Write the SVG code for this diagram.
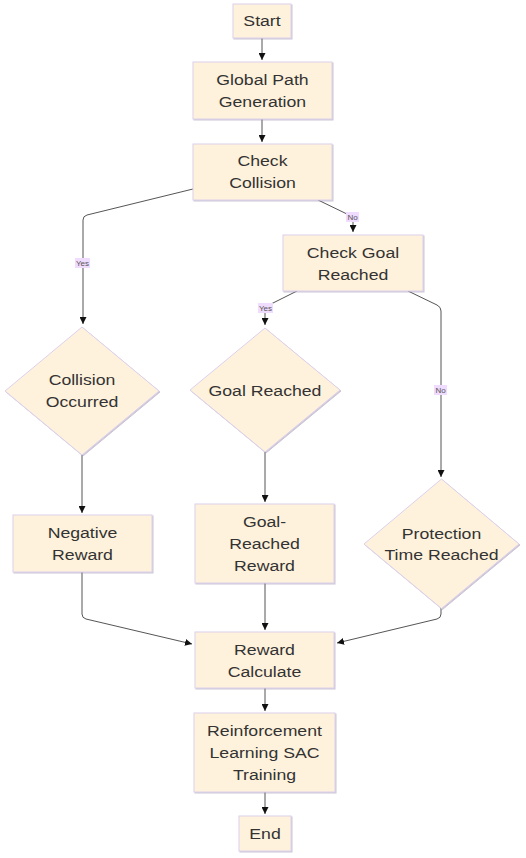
<svg xmlns="http://www.w3.org/2000/svg" width="526" height="858" viewBox="0 0 526 858">
<defs>
<style>
.n{fill:#fff2dc;stroke:#dcd0ec;stroke-width:1;filter:url(#sh)}
.t{font-family:"Liberation Sans",Arial,sans-serif;font-size:15.5px;fill:#333;text-anchor:middle}
.e{fill:none;stroke:#555;stroke-width:1}
.lb{fill:#f0dcff}
.lt{font-family:"Liberation Sans",Arial,sans-serif;font-size:8px;fill:#555;text-anchor:middle}
</style>
<filter id="sh" x="-10%" y="-10%" width="130%" height="130%">
<feDropShadow dx="1" dy="1" stdDeviation="0.7" flood-color="#8a7fa0" flood-opacity="0.45"/>
</filter>
<marker id="ar" markerUnits="userSpaceOnUse" viewBox="0 0 10 10" refX="10" refY="5" markerWidth="7" markerHeight="7" orient="auto">
<path d="M0,0 L10,5 L0,10 z" fill="#111"/>
</marker>
</defs>
<rect width="526" height="858" fill="#fff"/>
<g id="edges">
<path class="e" marker-end="url(#ar)" d="M262,38 L262,60"/>
<path class="e" marker-end="url(#ar)" d="M262,119 L262,142"/>
<path class="e" marker-end="url(#ar)" d="M193,189 L87,215 Q83,216 83,220 L83,324"/>
<path class="e" marker-end="url(#ar)" d="M318,200 L349,215 Q353,217 353,221 L353,232"/>
<path class="e" marker-end="url(#ar)" d="M297,291 L269,305 Q265,307 265,311 L265,325"/>
<path class="e" marker-end="url(#ar)" d="M408,291 L437,305 Q441,307 441,311 L441,477"/>
<path class="e" marker-end="url(#ar)" d="M82,455 L82,513"/>
<path class="e" marker-end="url(#ar)" d="M265,452 L265,502"/>
<path class="e" marker-end="url(#ar)" d="M441,608 L441,614 Q441,618 437,619 L337,643"/>
<path class="e" marker-end="url(#ar)" d="M82,572 L82,614 Q82,618 86,619 L192,644"/>
<path class="e" marker-end="url(#ar)" d="M265,583 L265,630"/>
<path class="e" marker-end="url(#ar)" d="M265,688 L265,711"/>
<path class="e" marker-end="url(#ar)" d="M265,792 L265,814"/>
<g id="edge-labels">
<rect class="lb" x="75" y="258" width="15" height="10"/>
<text class="lt" x="82.5" y="266">Yes</text>
<rect class="lb" x="346" y="212" width="13" height="10"/>
<text class="lt" x="352.5" y="220">No</text>
<rect class="lb" x="258" y="303" width="15" height="10"/>
<text class="lt" x="265.5" y="311">Yes</text>
<rect class="lb" x="434" y="385" width="13" height="10"/>
<text class="lt" x="440.5" y="393">No</text>
</g>
</g>
<g id="start">
<rect class="n" x="233" y="4" width="58" height="34"/>
<g transform="translate(262,0) scale(1.14,1)"><text class="t" x="0" y="26.5">Start</text></g>
</g>
<g id="global-path">
<rect class="n" x="193" y="62" width="139" height="57"/>
<g transform="translate(262.5,0) scale(1.14,1)"><text class="t" x="0" y="85.5">Global Path</text><text class="t" x="0" y="107">Generation</text></g>
</g>
<g id="check-collision">
<rect class="n" x="193" y="144" width="139" height="56"/>
<g transform="translate(262.5,0) scale(1.14,1)"><text class="t" x="0" y="166.5">Check</text><text class="t" x="0" y="188">Collision</text></g>
</g>
<g id="check-goal">
<rect class="n" x="283" y="235" width="140" height="56"/>
<g transform="translate(353,0) scale(1.14,1)"><text class="t" x="0" y="258">Check Goal</text><text class="t" x="0" y="280">Reached</text></g>
</g>
<g id="collision-occurred">
<polygon class="n" points="82,327 159,391 82,455 5,391"/>
<g transform="translate(82,0) scale(1.14,1)"><text class="t" x="0" y="385.5">Collision</text><text class="t" x="0" y="407">Occurred</text></g>
</g>
<g id="goal-reached">
<polygon class="n" points="265,328 340,390 265,452 190,390"/>
<g transform="translate(265,0) scale(1.14,1)"><text class="t" x="0" y="396">Goal Reached</text></g>
</g>
<g id="protection">
<polygon class="n" points="441.5,479 519,544 441.5,608.5 364,544"/>
<g transform="translate(441.5,0) scale(1.14,1)"><text class="t" x="0" y="539">Protection</text><text class="t" x="0" y="560.5">Time Reached</text></g>
</g>
<g id="negative-reward">
<rect class="n" x="13" y="515" width="139" height="57"/>
<g transform="translate(82.5,0) scale(1.14,1)"><text class="t" x="0" y="538">Negative</text><text class="t" x="0" y="560.5">Reward</text></g>
</g>
<g id="goal-reached-reward">
<rect class="n" x="195" y="504" width="139" height="79"/>
<g transform="translate(264.5,0) scale(1.14,1)"><text class="t" x="0" y="527">Goal-</text><text class="t" x="0" y="549">Reached</text><text class="t" x="0" y="571.5">Reward</text></g>
</g>
<g id="reward-calculate">
<rect class="n" x="195" y="632" width="139" height="56"/>
<g transform="translate(264.5,0) scale(1.14,1)"><text class="t" x="0" y="655.5">Reward</text><text class="t" x="0" y="677">Calculate</text></g>
</g>
<g id="rl-sac-training">
<rect class="n" x="194" y="713" width="141" height="79"/>
<g transform="translate(264.5,0) scale(1.14,1)"><text class="t" x="0" y="736">Reinforcement</text><text class="t" x="0" y="758">Learning SAC</text><text class="t" x="0" y="780.5">Training</text></g>
</g>
<g id="end">
<rect class="n" x="239" y="816" width="52" height="35"/>
<g transform="translate(265,0) scale(1.14,1)"><text class="t" x="0" y="839.5">End</text></g>
</g>
</svg>
